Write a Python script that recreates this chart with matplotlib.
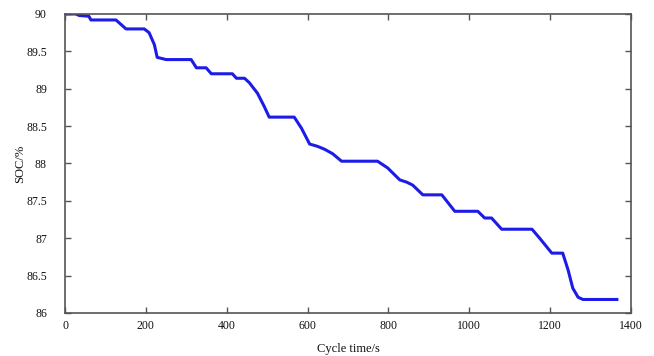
import matplotlib
matplotlib.use('Agg')
import matplotlib.pyplot as plt

# SOC trace over one drive cycle (breakpoints of the stepped curve)
cycle_time = [0, 27, 35, 59, 64, 126, 151, 196, 208, 221, 228, 250, 312, 325,
              349, 362, 414, 424, 444, 456, 476, 493, 505, 567, 585, 605, 624,
              642, 662, 684, 773, 798, 828, 845, 860, 885, 932, 964, 1021, 1038,
              1055, 1080, 1155, 1174, 1204, 1231, 1244, 1256, 1269, 1281, 1365]
soc = [90.00, 90.00, 89.98, 89.97, 89.92, 89.92, 89.80, 89.80, 89.75, 89.59,
       89.42, 89.39, 89.39, 89.28, 89.28, 89.20, 89.20, 89.14, 89.14, 89.08,
       88.94, 88.76, 88.62, 88.62, 88.47, 88.26, 88.23, 88.19, 88.13, 88.03,
       88.03, 87.94, 87.78, 87.75, 87.71, 87.58, 87.58, 87.36, 87.36, 87.27,
       87.27, 87.12, 87.12, 87.00, 86.80, 86.80, 86.58, 86.33, 86.21, 86.18,
       86.18]

x_ticks = [0, 200, 400, 600, 800, 1000, 1200, 1400]
y_ticks = [86, 86.5, 87, 87.5, 88, 88.5, 89, 89.5, 90]
y_tick_labels = ['86', '86.5', '87', '87.5', '88', '88.5', '89', '89.5', '90']

plt.rcParams['font.family'] = ['Liberation Serif', 'DejaVu Serif']

fig = plt.figure(figsize=(6.54, 3.56), dpi=100)
ax = fig.add_axes([0.0994, 0.121, 0.8655, 0.8397])

ax.plot(cycle_time, soc, color='#1c1ce6', linewidth=2.2, solid_joinstyle='round')

ax.set_xlim(0, 1400)
ax.set_ylim(86, 90)
ax.set_xticks(x_ticks)
ax.set_yticks(y_ticks)
ax.set_yticklabels(y_tick_labels)

ax.tick_params(direction='in', length=4, width=1.0, color='#555555',
               top=True, right=True, labelsize=8.5, labelcolor='#111111')
ax.tick_params(axis='y', pad=13)
ax.tick_params(axis='x', pad=5)
for sp in ax.spines.values():
    sp.set_color('#555555')
    sp.set_linewidth(1.2)

ax.set_xlabel('Cycle time/s', fontsize=9, labelpad=8, color='#111111')
ax.set_ylabel('SOC/%', fontsize=9, labelpad=0, color='#111111')

fig.savefig('out.png', dpi=100)
